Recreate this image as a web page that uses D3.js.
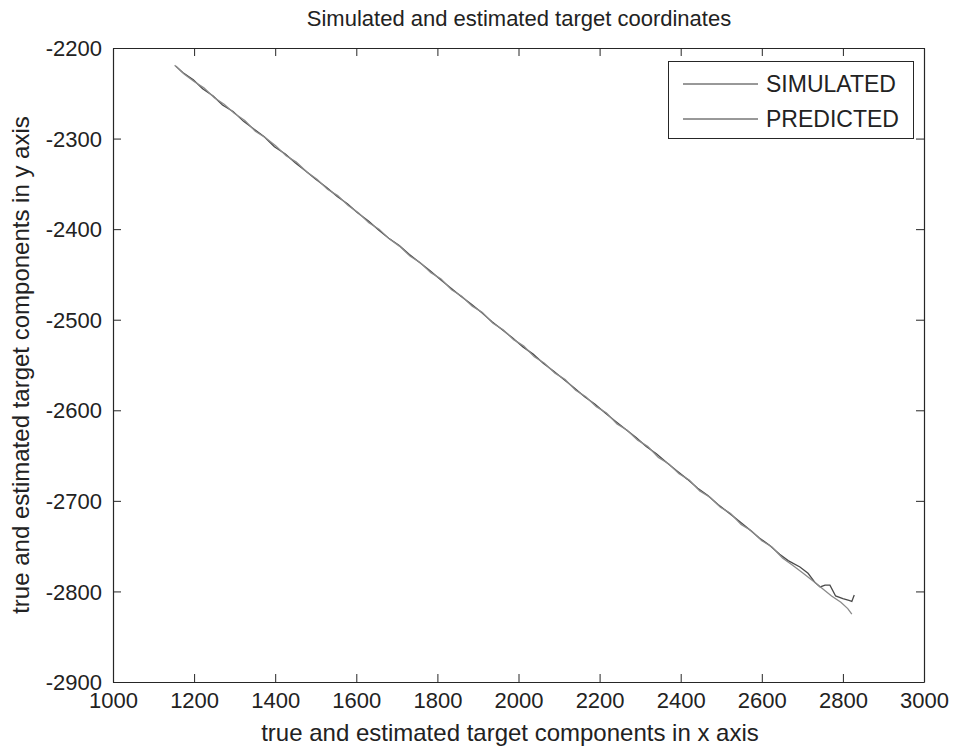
<!DOCTYPE html>
<html>
<head>
<meta charset="utf-8">
<script src="https://cdn.jsdelivr.net/npm/d3@7"></script>
<style>
  body { margin: 0; background: #fff; }
  text { font-family: "Liberation Sans", Arial, sans-serif; fill: #222; }
</style>
</head>
<body>
<script>
const titleText = "Simulated and estimated target coordinates";
const xLabel = "true and estimated target components in x axis";
const yLabel = "true and estimated target components in y axis";
const xTicks = [1000, 1200, 1400, 1600, 1800, 2000, 2200, 2400, 2600, 2800, 3000];
const yTicks = [-2200, -2300, -2400, -2500, -2600, -2700, -2800, -2900];
const seriesNames = ["SIMULATED", "PREDICTED"];
const seriesColors = ["#4a4a4a", "#8a8a8a"];

const simulated = [[1155,-2220],[1172,-2227],[1198,-2235],[1221,-2245],[1247,-2253],[1270,-2263],[1296,-2270],[1322,-2281],[1349,-2290],[1373,-2298],[1398,-2309],[1425,-2317],[1450,-2327],[1476,-2336],[1500,-2345],[1527,-2354],[1553,-2364],[1578,-2372],[1603,-2382],[1630,-2391],[1655,-2401],[1680,-2410],[1706,-2418],[1731,-2428],[1757,-2437],[1782,-2446],[1808,-2456],[1833,-2465],[1858,-2474],[1884,-2483],[1909,-2492],[1934,-2502],[1960,-2511],[1985,-2520],[2011,-2530],[2036,-2538],[2061,-2548],[2087,-2557],[2112,-2566],[2137,-2575],[2163,-2585],[2188,-2593],[2214,-2603],[2239,-2612],[2264,-2621],[2290,-2630],[2315,-2640],[2340,-2648],[2366,-2658],[2391,-2667],[2416,-2676],[2442,-2686],[2467,-2694],[2492,-2704],[2518,-2713],[2543,-2722],[2568,-2731],[2594,-2741],[2619,-2749],[2644,-2759],[2665,-2766],[2694,-2773],[2714,-2780],[2731,-2790],[2744,-2795],[2756,-2793],[2768,-2793],[2782,-2805],[2800,-2808],[2815,-2810],[2822,-2811],[2828,-2804]];

const predicted = [[1152,-2219],[1176,-2229],[1200,-2237],[1224,-2244],[1250,-2255],[1274,-2262],[1299,-2272],[1325,-2280],[1351,-2292],[1376,-2299],[1401,-2308],[1427,-2319],[1452,-2326],[1478,-2337],[1503,-2345],[1529,-2356],[1554,-2363],[1580,-2374],[1605,-2382],[1631,-2393],[1656,-2400],[1682,-2411],[1707,-2419],[1733,-2430],[1758,-2437],[1784,-2448],[1809,-2455],[1835,-2467],[1860,-2474],[1886,-2485],[1911,-2492],[1937,-2504],[1962,-2511],[1988,-2522],[2013,-2529],[2039,-2541],[2064,-2548],[2090,-2559],[2115,-2566],[2141,-2578],[2166,-2585],[2192,-2596],[2217,-2603],[2243,-2615],[2268,-2622],[2294,-2633],[2319,-2640],[2345,-2652],[2370,-2659],[2396,-2670],[2421,-2677],[2447,-2689],[2472,-2696],[2498,-2707],[2523,-2714],[2549,-2726],[2574,-2733],[2600,-2744],[2625,-2751],[2651,-2763],[2676,-2771],[2702,-2780],[2728,-2789],[2750,-2797],[2772,-2805],[2795,-2812],[2812,-2819],[2822,-2825]];

const W = 956, H = 749;
const m = {left: 113, right: 924, top: 48, bottom: 682};
const svg = d3.select("body").append("svg").attr("width", W).attr("height", H);

const x = d3.scaleLinear().domain([1000, 3000]).range([m.left, m.right]);
const y = d3.scaleLinear().domain([-2900, -2200]).range([m.bottom, m.top]);

const axisColor = "#262626";
const tickLen = 8;

// data lines
const line = d3.line().x(d => x(d[0])).y(d => y(d[1]));
[simulated, predicted].forEach((s, i) => {
  svg.append("path").attr("d", line(s)).attr("fill", "none")
    .attr("stroke", seriesColors[i]).attr("stroke-width", 1.3);
});

// axes (ticks inward, box on all sides)
function styleAxis(g) {
  g.select(".domain").attr("stroke", axisColor).attr("stroke-width", 1.2);
  g.selectAll(".tick line").attr("stroke", axisColor);
  g.selectAll(".tick text").attr("fill", "#222").style("font-size", "22px")
    .style("font-family", "'Liberation Sans', Arial, sans-serif");
}
const xb = svg.append("g").attr("transform", `translate(0,${m.bottom})`)
  .call(d3.axisBottom(x).tickValues(xTicks).tickFormat(d3.format("d")).tickSizeInner(-tickLen).tickSizeOuter(0).tickPadding(10));
styleAxis(xb);
const xt = svg.append("g").attr("transform", `translate(0,${m.top})`)
  .call(d3.axisTop(x).tickValues(xTicks).tickFormat("").tickSizeInner(-tickLen).tickSizeOuter(0));
styleAxis(xt);
const yl = svg.append("g").attr("transform", `translate(${m.left},0)`)
  .call(d3.axisLeft(y).tickValues(yTicks).tickFormat(d3.format("d")).tickSizeInner(-tickLen).tickSizeOuter(0).tickPadding(11));
styleAxis(yl);
yl.selectAll(".tick text").text(d => String(d)).attr("dy", "0.35em");
const yr = svg.append("g").attr("transform", `translate(${m.right},0)`)
  .call(d3.axisRight(y).tickValues(yTicks).tickFormat("").tickSizeInner(-tickLen).tickSizeOuter(0));
styleAxis(yr);

// title and labels
svg.append("text").attr("x", 519).attr("y", 26)
  .attr("text-anchor", "middle").style("font-size", "22px").text(titleText);
svg.append("text").attr("x", 510).attr("y", 741)
  .attr("text-anchor", "middle").style("font-size", "24px").text(xLabel);
svg.append("text").attr("transform", `translate(29,${(m.top + m.bottom) / 2}) rotate(-90)`)
  .attr("text-anchor", "middle").style("font-size", "24px").text(yLabel);

// legend
const lg = svg.append("g");
lg.append("rect").attr("x", 668.5).attr("y", 61.5).attr("width", 245).attr("height", 77)
  .attr("fill", "#fff").attr("stroke", axisColor).attr("stroke-width", 1);
seriesNames.forEach((n, i) => {
  const yy = 84 + i * 35;
  lg.append("line").attr("x1", 683).attr("x2", 758).attr("y1", yy).attr("y2", yy)
    .attr("stroke", "#333").attr("stroke-width", 1);
  lg.append("text").attr("x", 766).attr("y", yy).attr("dy", "0.36em")
    .style("font-size", "23px").text(n);
});
</script>
</body>
</html>
